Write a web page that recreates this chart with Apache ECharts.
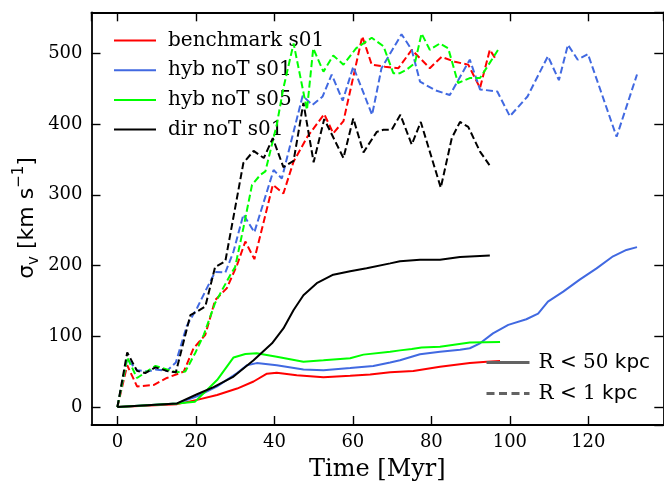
<!DOCTYPE html>
<html>
<head>
<meta charset="utf-8">
<script src="https://cdn.jsdelivr.net/npm/echarts@6/dist/echarts.min.js"></script>
<style>html,body{margin:0;padding:0;background:#fff}#c{width:664px;height:481px}</style>
</head>
<body>
<div id="c"></div>
<script>
// ---- data (Time [Myr], sigma_v [km/s]) ----
const tRedD = [0, 2.5, 5, 9.2, 12.6, 16.9, 19.4, 22.4, 24.9, 27.9, 30.5, 32.6, 34.9, 37.2, 39.6, 42.3, 44.9, 48.4, 52.7, 55, 57.6, 62.4, 64.8, 68.2, 71.6, 75, 79.6, 82.6, 86, 89.4, 92.4, 94.9, 96.6];
const vRedD = [0, 59, 29, 31, 41, 50, 83, 102, 151, 168, 201, 234, 209, 260, 314, 302, 347, 382, 414, 387, 404, 524, 484, 481, 479, 505, 479, 495, 488, 484, 451, 505, 490];

const tBlueD = [0, 2.5, 5, 7.6, 9.7, 12.6, 14.9, 17.7, 20.3, 22.8, 24.9, 27.5, 29.6, 32.1, 34.9, 39.8, 41.9, 47.2, 49.7, 52.3, 54.6, 57.4, 60.1, 64.9, 67.3, 72.4, 75, 77.1, 80.9, 84.7, 89.8, 92.4, 96.8, 100, 104.5, 109.7, 112.5, 114.8, 117.3, 119.9, 127.2, 132.4];
const vBlueD = [0, 68, 52, 50, 53, 51, 63, 115, 140, 168, 191, 190, 220, 272, 247, 335, 323, 440, 427, 439, 470, 433, 481, 413, 479, 527, 505, 460, 448, 441, 491, 449, 446, 411, 439, 496, 462, 512, 491, 499, 382, 470];

const tGreenD = [0, 2.5, 5, 9.7, 12.6, 14.9, 17.3, 19.8, 22, 24.9, 28.8, 30, 32.1, 34.3, 36.4, 37.7, 40.6, 42.3, 44.9, 48.3, 49.9, 52.5, 55, 57.6, 60.8, 64.8, 67.8, 70.3, 72, 73.7, 75.8, 77.5, 79.6, 82.2, 84.3, 86.8, 89.8, 92.4, 97];
const vGreenD = [0, 70, 41, 58, 53, 49, 50, 76, 102, 147, 187, 198, 253, 314, 328, 333, 399, 451, 514, 420, 507, 474, 497, 484, 507, 522, 510, 472, 472, 477, 486, 528, 505, 514, 507, 458, 465, 465, 505];

const tBlackD = [0, 2.5, 5, 7.1, 9.7, 12.6, 14.9, 18.6, 20.3, 22.4, 24.9, 27.5, 32.1, 34.7, 37.3, 39.6, 42.3, 44.9, 47.4, 50, 52.7, 57.6, 60.1, 62.7, 66.1, 67.8, 69.9, 72.1, 75, 77.3, 82.4, 85.2, 87.3, 89.4, 92.4, 94.8];
const vBlackD = [0, 77, 51, 48, 56, 51, 49, 130, 135, 142, 198, 206, 345, 362, 352, 380, 339, 348, 430, 346, 407, 352, 408, 360, 389, 392, 392, 413, 371, 403, 310, 380, 403, 396, 361, 342];

const tRedS = [0, 15.2, 20.3, 25.4, 30.5, 34.7, 38.1, 40.6, 45.7, 52.5, 59.3, 64.4, 69.5, 75.4, 82.2, 89.8, 94.1, 97.5];
const vRedS = [0, 4, 10, 17, 26, 36, 47, 48.5, 45, 42, 44, 46, 49, 51, 57, 62, 64, 65];

const tBlueS = [0, 15.2, 20.3, 25.4, 30.5, 33, 35.5, 40.6, 47.4, 52.5, 59.3, 65.2, 69.5, 72, 77.1, 82.2, 87.3, 89.8, 92.4, 95.7, 99.6, 104.2, 107.2, 109.7, 113.6, 117.8, 122.1, 126.3, 129.7, 132.4];
const vBlueS = [0, 5, 15, 29, 48, 59, 62, 59, 53, 52, 55, 58, 63, 66, 74.5, 78, 81, 83, 90, 104, 116, 124, 132, 149, 163, 180, 196, 213, 222, 226];

const tGreenS = [0, 15.2, 19.8, 25.4, 29.6, 32.6, 35.5, 40.6, 47.4, 52.5, 59.3, 62.7, 69.5, 72, 75, 77.5, 82.2, 89.8, 97.5];
const vGreenS = [0, 5, 7.5, 38, 70, 75, 76, 71, 64, 66, 69, 74, 78, 80, 82, 84, 85, 91, 92];

const tBlackS = [0, 15.2, 20.3, 24.5, 29.6, 34.7, 39.4, 42.3, 44.9, 47.4, 50.8, 55, 59.3, 63.5, 69.5, 72, 77.1, 82.2, 87.3, 94.9];
const vBlackS = [0, 5, 18, 28, 43, 66, 90, 111, 137, 158, 175, 187, 192, 196, 203, 206, 208, 208, 212, 214];

const runNames = ['benchmark s01', 'hyb noT s01', 'hyb noT s05', 'dir noT s01'];
const radiusNames = ['R < 50 kpc', 'R < 1 kpc'];

// ---- build ----
const zip = (t, v) => t.map((x, i) => [x, v[i]]);
const colors = ['#ff0000', '#4169e1', '#00ff00', '#000000'];
const solid = [[tRedS, vRedS], [tBlueS, vBlueS], [tGreenS, vGreenS], [tBlackS, vBlackS]];
const dashed = [[tRedD, vRedD], [tBlueD, vBlueD], [tGreenD, vGreenD], [tBlackD, vBlackD]];
const DASH = [7, 3.3];
const LW = 2;

const series = [];
for (let i = 0; i < 4; i++) {
  series.push({
    name: runNames[i], type: 'line', data: zip(solid[i][0], solid[i][1]),
    symbol: 'none', showSymbol: false, color: colors[i],
    lineStyle: { color: colors[i], width: LW }, z: 2 + i
  });
  series.push({
    name: runNames[i] + ' (R<1)', type: 'line', data: zip(dashed[i][0], dashed[i][1]),
    symbol: 'none', showSymbol: false, color: colors[i],
    lineStyle: { color: colors[i], width: LW, type: DASH }, z: 2 + i
  });
}
series.push({ name: radiusNames[0], type: 'line', data: [], symbol: 'none', color: '#636363', lineStyle: { color: '#636363', width: 3 } });
series.push({ name: radiusNames[1], type: 'line', data: [], symbol: 'none', color: '#636363', lineStyle: { color: '#636363', width: 3, type: [8, 4.5] } });

const serif = 'DejaVu Serif';
const sans = 'DejaVu Sans';
const XMIN = -6.6, XMAX = 139.1, YMIN = -25.5, YMAX = 558;
const axisLine = { show: true, onZero: false, lineStyle: { color: '#000', width: 1.8 } };
const tick = { show: true, inside: true, length: 9, lineStyle: { color: '#000', width: 1.4 } };

const chart = echarts.init(document.getElementById('c'), null, { renderer: 'canvas' });
chart.setOption({
  animation: false,
  backgroundColor: '#fff',
  grid: { left: 91.5, right: 0.7, top: 12.3, bottom: 56, containLabel: false, outerBoundsMode: 'none' },
  xAxis: [
    { type: 'value', min: XMIN, max: XMAX, splitNumber: 7, position: 'bottom',
      axisLine, axisTick: tick, splitLine: { show: false },
      axisLabel: { showMinLabel: false, showMaxLabel: false, fontFamily: serif, fontSize: 18, color: '#000', margin: 8 },
      name: 'Time [Myr]', nameLocation: 'middle', nameGap: 33,
      nameTextStyle: { fontFamily: serif, fontSize: 24, color: '#000' } },
    { type: 'value', min: XMIN, max: XMAX, splitNumber: 7, position: 'top',
      axisLine, axisTick: tick, splitLine: { show: false }, axisLabel: { show: false } }
  ],
  yAxis: [
    { type: 'value', min: YMIN, max: YMAX, splitNumber: 6, position: 'left',
      axisLine, axisTick: tick, splitLine: { show: false },
      axisLabel: { showMinLabel: false, showMaxLabel: false, fontFamily: serif, fontSize: 18, color: '#000', margin: 9 } },
    { type: 'value', min: YMIN, max: YMAX, splitNumber: 6, position: 'right',
      axisLine, axisTick: tick, splitLine: { show: false }, axisLabel: { show: false } }
  ],
  legend: [
    { data: runNames, orient: 'vertical', left: 108, top: 25.5,
      itemWidth: 42, itemHeight: 20, itemGap: 9.7, selectedMode: false,
      itemStyle: { opacity: 0 },
      formatter: n => '{sp|}{t|' + n + '}',
      textStyle: { color: '#000', rich: { sp: { width: 7 }, t: { fontFamily: serif, fontSize: 20, color: '#000' } } } },
    { data: radiusNames, orient: 'vertical', left: 480, top: 347.5,
      itemWidth: 43, itemHeight: 20, itemGap: 11, selectedMode: false,
      itemStyle: { opacity: 0 },
      lineStyle: { width: 3 },
      formatter: n => { const num = n.replace('R < ', '').replace(' kpc', ''); return '{sp|}{s|R < ' + num + ' }{k|kpc}'; },
      textStyle: { color: '#000', rich: { sp: { width: 4 }, s: { fontFamily: serif, fontSize: 20, color: '#000' }, k: { fontFamily: sans, fontSize: 20, color: '#000' } } } }
  ],
  graphic: [
    { type: 'text', x: 27, y: 218, rotation: Math.PI / 2,
      style: { text: '{a|σ}{b|v}{a| [km s}{c|−1}{a|]}', align: 'center', verticalAlign: 'middle',
        rich: {
          a: { fontFamily: sans, fontSize: 22, color: '#000', lineHeight: 30 },
          b: { fontFamily: sans, fontSize: 15, color: '#000', verticalAlign: 'bottom', lineHeight: 30 },
          c: { fontFamily: sans, fontSize: 15, color: '#000', verticalAlign: 'top', lineHeight: 30 }
        } } }
  ],
  series
});
</script>
</body>
</html>
